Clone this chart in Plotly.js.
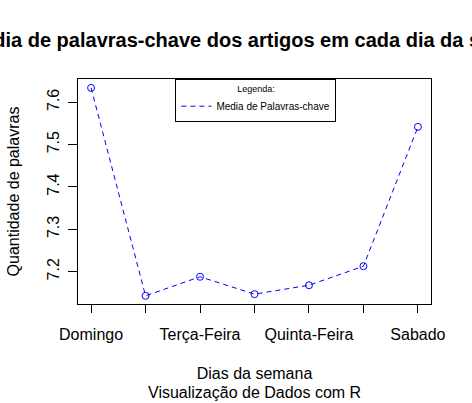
<!DOCTYPE html>
<html>
<head>
<meta charset="utf-8">
<script src="https://cdn.plot.ly/plotly-3.0.1.min.js"></script>
<style>html,body{margin:0;padding:0;background:#fff;}#chart{width:472px;height:403px;}</style>
</head>
<body>
<div id="chart"></div>
<script>
const days = ['Domingo', 'Segunda-Feira', 'Terça-Feira', 'Quarta-Feira', 'Quinta-Feira', 'Sexta-Feira', 'Sabado'];
const tickLabels = ['Domingo', '', 'Terça-Feira', '', 'Quinta-Feira', '', 'Sabado'];
const mediaPalavras = [7.634, 7.143, 7.188, 7.147, 7.168, 7.213, 7.542];
const yTicks = [7.2, 7.3, 7.4, 7.5, 7.6];
const seriesName = 'Media de Palavras-chave';

const FONT = 'Arial, "Liberation Sans", sans-serif';
const BLUE = '#0000FF';

const traces = [
  {
    x: days, y: mediaPalavras, type: 'scatter', mode: 'lines+markers',
    line: {color: BLUE, width: 1, dash: '5px,4px'},
    marker: {symbol: 'circle-open', size: 7, color: BLUE, line: {width: 1, color: BLUE}},
    showlegend: false, hoverinfo: 'x+y'
  },
  {
    x: [null], y: [null], type: 'scatter', mode: 'lines', name: seriesName,
    line: {color: BLUE, width: 1, dash: '5px,4px'}, showlegend: true
  }
];

const layout = {
  width: 472, height: 403,
  margin: {l: 78, r: 41, t: 79, b: 99},
  paper_bgcolor: '#fff', plot_bgcolor: '#fff',
  font: {family: FONT, color: '#000', size: 16},
  title: {
    text: '<b>Media de palavras-chave dos artigos em cada dia da semana</b>',
    font: {family: FONT, size: 20, color: '#000'},
    x: 0.5, xref: 'paper', xanchor: 'center',
    y: 1 - 40 / 403, yref: 'container', yanchor: 'middle'
  },
  xaxis: {
    type: 'category', range: [-0.24, 6.24],
    tickmode: 'array', tickvals: days, ticktext: tickLabels,
    ticks: 'outside', ticklen: 8, tickwidth: 1, tickcolor: '#000',
    ticklabelstandoff: 8,
    showline: true, mirror: true, linecolor: '#000', linewidth: 1,
    showgrid: false, zeroline: false,
    tickfont: {family: FONT, size: 16, color: '#000'},
    title: {text: 'Dias da semana', font: {family: FONT, size: 16, color: '#000'}, standoff: 25},
    automargin: false, fixedrange: true
  },
  yaxis: {
    range: [7.1237, 7.655],
    tickmode: 'array', tickvals: yTicks, ticktext: yTicks.map(v => v.toFixed(1)),
    tickangle: -90,
    ticks: 'outside', ticklen: 9, tickwidth: 1, tickcolor: '#000',
    ticklabelstandoff: 3,
    showline: true, mirror: true, linecolor: '#000', linewidth: 1,
    showgrid: false, zeroline: false,
    tickfont: {family: FONT, size: 16, color: '#000'},
    title: {text: 'Quantidade de palavras', font: {family: FONT, size: 16, color: '#000'}, standoff: 20},
    automargin: false, fixedrange: true
  },
  legend: {
    x: 0.504, xanchor: 'center', y: 1, yanchor: 'top',
    bgcolor: '#fff', bordercolor: '#000', borderwidth: 1,
    font: {family: FONT, size: 10, color: '#000'},
    title: {text: 'Legenda:', side: 'top center', font: {family: FONT, size: 9, color: '#000'}}
  },
  annotations: [
    {
      text: 'Visualização de Dados com R', xref: 'paper', yref: 'paper',
      x: 0.5, y: (304 - 392) / 225, xanchor: 'center', yanchor: 'middle',
      showarrow: false, font: {family: FONT, size: 16, color: '#000'}
    }
  ],
  showlegend: true
};

Plotly.newPlot('chart', traces, layout, {displayModeBar: false, staticPlot: true});
</script>
</body>
</html>
